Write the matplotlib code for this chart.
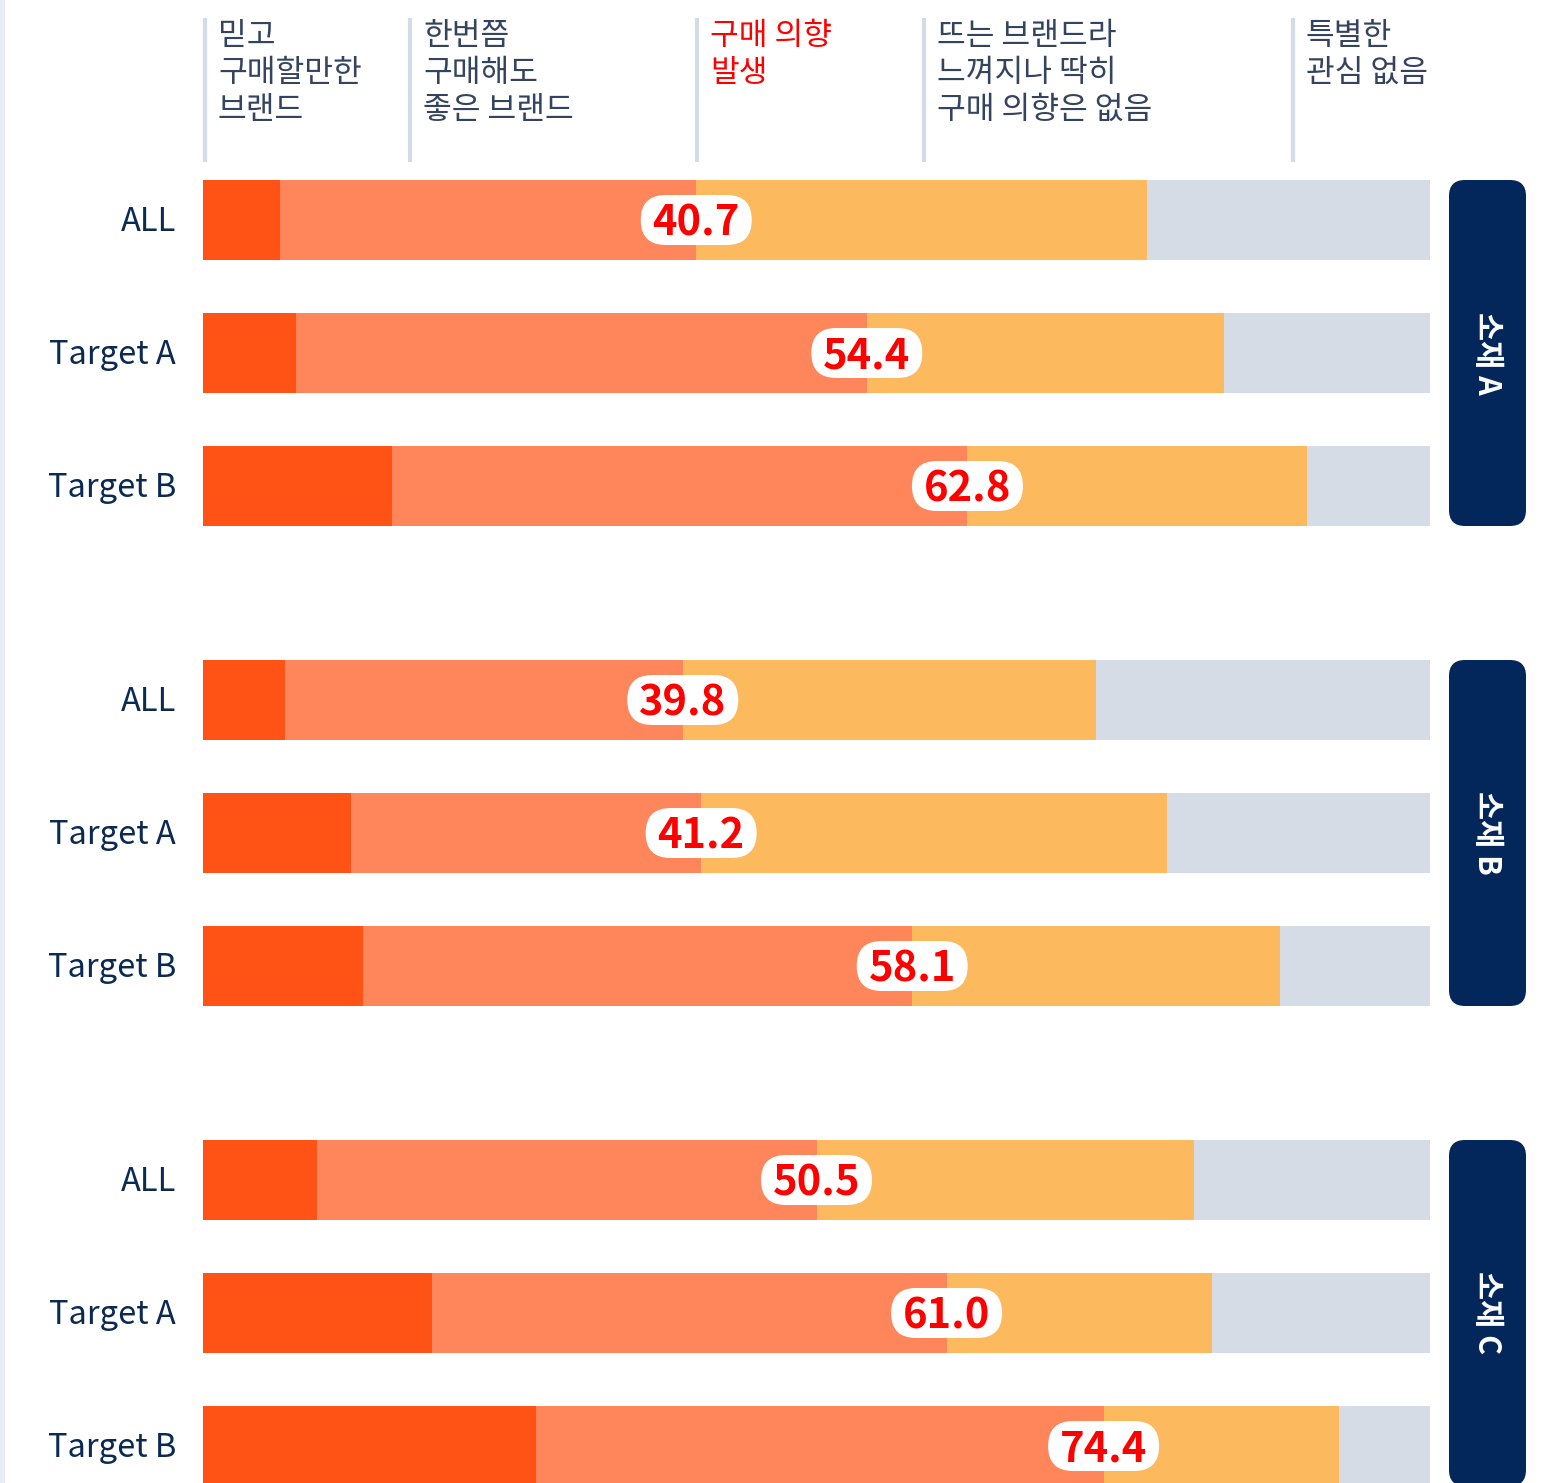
import matplotlib
matplotlib.use("Agg")
import matplotlib.pyplot as plt
from matplotlib.patches import FancyBboxPatch

plt.rcParams["font.family"] = ["Noto Sans CJK KR", "DejaVu Sans"]

W, H = 1568, 1483

groups   = ["소재 A", "소재 B", "소재 C"]
rows     = ["ALL", "Target A", "Target B"]
trust    = [6.3, 7.6, 15.4, 6.7, 12.1, 13.0, 9.3, 18.7, 27.1]
consider = [33.9, 46.5, 46.9, 32.4, 28.5, 44.8, 40.7, 41.9, 46.3]
neutral  = [36.7, 29.1, 27.7, 33.7, 38.0, 30.0, 30.8, 21.6, 19.2]
nointer  = [23.1, 16.8, 10.0, 27.2, 21.4, 12.2, 19.2, 17.8, 7.4]
intent   = ["40.7", "54.4", "62.8", "39.8", "41.2", "58.1", "50.5", "61.0", "74.4"]
headers  = [
    ["믿고", "구매할만한", "브랜드"],
    ["한번쯤", "구매해도", "좋은 브랜드"],
    ["구매 의향", "발생"],
    ["뜨는 브랜드라", "느껴지나 딱히", "구매 의향은 없음"],
    ["특별한", "관심 없음"],
]

colors = ["#FF5214", "#FF855A", "#FDB95E", "#D5DCE6"]
NAVY   = "#03275A"
TXT    = "#34435F"
RED    = "#FF0000"

fig = plt.figure(figsize=(W / 100, H / 100), dpi=100)

# background axes in pixel units for decorations
bg = fig.add_axes([0, 0, 1, 1], zorder=1)
bg.set_xlim(0, W)
bg.set_ylim(H, 0)
bg.axis("off")
bg.axvspan(0, 5, color="#E8EDF5", lw=0)

# bar axes: x in percent, y in pixels
x0, x1 = 203, 1430
ax = fig.add_axes([x0 / W, 0, (x1 - x0) / W, 1], zorder=2)
ax.set_xlim(0, 100)
ax.set_ylim(H, 0)
ax.axis("off")
ax.patch.set_visible(False)

# overlay for the value pills
top = fig.add_axes([0, 0, 1, 1], zorder=3)
top.set_xlim(0, W)
top.set_ylim(H, 0)
top.axis("off")
top.patch.set_visible(False)

# header columns
head_x = [205, 410, 697, 924, 1293]
for hx, lines in zip(head_x, headers):
    bg.plot([hx, hx], [18, 162], color="#D5DBE6", lw=3, solid_capstyle="butt")
    col = RED if lines[0] == "구매 의향" else TXT
    for k, line in enumerate(lines):
        bg.text(hx + 13, 45 + k * 37, line, fontsize=22.5, color=col,
                fontweight="medium", ha="left", va="baseline")

row_y = []
for g in range(len(groups)):
    for r in range(len(rows)):
        row_y.append(220 + g * 480 + r * 133)

segs = [trust, consider, neutral, nointer]
left = [0.0] * len(row_y)
for seg, c in zip(segs, colors):
    ax.barh(row_y, seg, left=left, height=80, color=c, lw=0)
    left = [l + v for l, v in zip(left, seg)]

for i, y in enumerate(row_y):
    bg.text(176, y + 11, rows[i % 3], fontsize=23.5, color="#0B2A52",
            ha="right", va="baseline")

    # value pill centred on the trust+consider boundary
    disp = ax.transData.transform((trust[i] + consider[i], y))
    px, py = top.transData.inverted().transform(disp)
    top.add_patch(FancyBboxPatch((px - 55.5, py - 25), 111, 50,
                                 boxstyle="round,pad=0,rounding_size=25",
                                 fc="white", ec="none"))
    top.text(px, py + 15.5, intent[i], fontsize=30, fontweight="bold",
             color=RED, ha="center", va="baseline")

# group badges
for g, name in enumerate(groups):
    yb = 180 + g * 480
    bg.add_patch(FancyBboxPatch((1449, yb), 77, 346,
                                boxstyle="round,pad=0,rounding_size=16",
                                fc=NAVY, ec="none"))
    bg.text(1487, yb + 173, name, fontsize=22, fontweight="bold",
            color="white", rotation=-90, ha="center", va="center")

fig.savefig("out.png", dpi=100)
